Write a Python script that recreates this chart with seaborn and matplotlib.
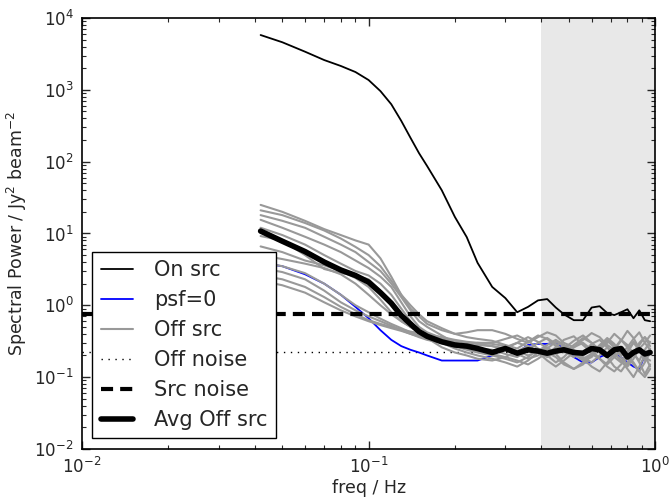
import matplotlib
matplotlib.use('Agg')
import matplotlib.pyplot as plt
from matplotlib.lines import Line2D
import pandas as pd
import seaborn as sns

freq = [0.042, 0.05, 0.06, 0.07, 0.08, 0.09, 0.10, 0.11, 0.12, 0.13, 0.14, 0.15, 0.16,
        0.18, 0.20, 0.22, 0.24, 0.27, 0.30, 0.33, 0.36, 0.39, 0.42, 0.45, 0.48, 0.52,
        0.56, 0.60, 0.64, 0.68, 0.72, 0.76, 0.80, 0.84, 0.88, 0.92, 0.96]

on_src = [5800, 4600, 3400, 2600, 2150, 1770, 1370, 960, 630, 370, 215, 131, 87,
          40, 17, 8.9, 3.9, 1.8, 1.26, 0.80, 0.95, 1.17, 1.22, 0.93, 0.75, 0.62,
          0.62, 0.93, 0.97, 0.78, 0.73, 0.80, 0.88, 0.66, 0.85, 0.62, 0.60]

psf0 = [3.9, 3.5, 2.7, 2.0, 1.4, 0.95, 0.66, 0.45, 0.33, 0.27, 0.24, 0.22, 0.20,
        0.17, 0.17, 0.17, 0.17, 0.20, 0.26, 0.22, 0.28, 0.29, 0.29, 0.30, 0.25, 0.19,
        0.16, 0.16, 0.19, 0.21, 0.21, 0.19, 0.16, 0.14, 0.13, 0.20, 0.24]

avg_off = [10.8, 7.8, 5.6, 4.0, 3.1, 2.6, 2.1, 1.5, 1.07, 0.72, 0.55, 0.43, 0.37,
           0.31, 0.28, 0.27, 0.25, 0.22, 0.25, 0.215, 0.24, 0.23, 0.215, 0.23, 0.24, 0.22,
           0.215, 0.25, 0.24, 0.20, 0.24, 0.25, 0.19, 0.22, 0.24, 0.21, 0.22]

off_src = [
    [25, 20, 15, 11.5, 9.5, 8, 7, 4.5, 2.5, 1.4, 0.9, 0.7, 0.55, 0.45, 0.40, 0.42, 0.45,
     0.45, 0.40, 0.34, 0.30, 0.36, 0.42, 0.38, 0.30, 0.26, 0.33, 0.41, 0.36, 0.28, 0.24, 0.32, 0.44, 0.35, 0.25, 0.30, 0.38],
    [21, 18, 14, 11, 8.5, 6.5, 5, 3.5, 2.2, 1.4, 1.0, 0.75, 0.6, 0.48, 0.40, 0.36, 0.34,
     0.32, 0.28, 0.25, 0.31, 0.38, 0.34, 0.27, 0.22, 0.28, 0.35, 0.30, 0.24, 0.30, 0.40, 0.33, 0.26, 0.20, 0.28, 0.36, 0.30],
    [18, 15, 12, 9, 7, 5.5, 4, 3, 2.0, 1.3, 0.85, 0.6, 0.5, 0.38, 0.30, 0.28, 0.30,
     0.30, 0.34, 0.38, 0.32, 0.25, 0.21, 0.26, 0.33, 0.37, 0.28, 0.22, 0.27, 0.35, 0.29, 0.21, 0.26, 0.34, 0.42, 0.30, 0.24],
    [15.5, 12, 9, 7, 5.5, 4.2, 3.3, 2.5, 1.8, 1.1, 0.7, 0.5, 0.42, 0.35, 0.3, 0.27, 0.25,
     0.24, 0.21, 0.19, 0.24, 0.30, 0.35, 0.29, 0.23, 0.19, 0.22, 0.29, 0.33, 0.26, 0.19, 0.16, 0.22, 0.30, 0.24, 0.17, 0.22],
    [12, 9.5, 7, 5, 3.8, 3.0, 2.6, 2.0, 1.4, 0.9, 0.6, 0.45, 0.38, 0.32, 0.28, 0.26, 0.28,
     0.27, 0.25, 0.30, 0.36, 0.31, 0.25, 0.21, 0.25, 0.32, 0.38, 0.30, 0.22, 0.19, 0.25, 0.33, 0.28, 0.21, 0.17, 0.24, 0.31],
    [9.2, 8, 5, 3.2, 2.8, 2.6, 2.3, 1.6, 1.0, 0.7, 0.5, 0.42, 0.36, 0.30, 0.25, 0.22, 0.20,
     0.18, 0.16, 0.14, 0.17, 0.22, 0.26, 0.21, 0.16, 0.13, 0.15, 0.20, 0.25, 0.19, 0.14, 0.12, 0.16, 0.22, 0.16, 0.11, 0.15],
    [6.6, 5.5, 4.2, 3.6, 3.0, 2.4, 1.8, 1.2, 0.8, 0.6, 0.5, 0.44, 0.40, 0.35, 0.32, 0.3, 0.29,
     0.27, 0.24, 0.21, 0.18, 0.20, 0.25, 0.31, 0.27, 0.21, 0.17, 0.19, 0.26, 0.32, 0.26, 0.19, 0.15, 0.21, 0.30, 0.36, 0.27],
    [5, 4.4, 3.8, 3.3, 2.7, 2.0, 1.4, 1.0, 0.75, 0.6, 0.5, 0.42, 0.35, 0.26, 0.22, 0.2, 0.18,
     0.17, 0.19, 0.23, 0.27, 0.22, 0.17, 0.14, 0.17, 0.22, 0.18, 0.14, 0.12, 0.16, 0.21, 0.17, 0.13, 0.10, 0.14, 0.20, 0.25],
    [4, 3.5, 2.8, 2.0, 1.4, 1.0, 0.8, 0.65, 0.55, 0.48, 0.42, 0.38, 0.35, 0.3, 0.27, 0.24, 0.22,
     0.20, 0.18, 0.16, 0.19, 0.24, 0.20, 0.16, 0.19, 0.26, 0.30, 0.24, 0.18, 0.15, 0.19, 0.24, 0.20, 0.15, 0.12, 0.16, 0.22],
    [3.3, 2.9, 2.3, 1.6, 1.1, 0.85, 0.7, 0.6, 0.52, 0.45, 0.40, 0.36, 0.33, 0.3, 0.28, 0.26, 0.24,
     0.23, 0.26, 0.30, 0.27, 0.22, 0.19, 0.22, 0.28, 0.24, 0.19, 0.16, 0.20, 0.26, 0.22, 0.17, 0.14, 0.18, 0.25, 0.20, 0.14],
    [2.6, 2.3, 1.8, 1.3, 0.95, 0.75, 0.62, 0.55, 0.5, 0.46, 0.43, 0.41, 0.39, 0.36, 0.33, 0.31, 0.30,
     0.29, 0.27, 0.23, 0.20, 0.23, 0.28, 0.33, 0.28, 0.22, 0.18, 0.21, 0.28, 0.34, 0.27, 0.20, 0.23, 0.31, 0.26, 0.19, 0.17],
    [2.2, 1.9, 1.5, 1.1, 0.85, 0.7, 0.6, 0.53, 0.48, 0.44, 0.40, 0.37, 0.34, 0.30, 0.27, 0.25, 0.23,
     0.21, 0.19, 0.17, 0.15, 0.18, 0.22, 0.19, 0.15, 0.13, 0.16, 0.21, 0.18, 0.14, 0.12, 0.15, 0.19, 0.16, 0.12, 0.10, 0.13],
]

src_noise = 0.76
off_noise = 0.224
shade_range = (0.4, 1.0)

sns.set_style('ticks', {'xtick.direction': 'in', 'ytick.direction': 'in'})
plt.rcParams['font.family'] = ['DejaVu Sans']
plt.rcParams['mathtext.fontset'] = 'dejavusans'

fig = plt.figure(figsize=(6.72, 5.01), dpi=100)
ax = fig.add_axes([0.122, 0.104, 0.853, 0.860])

ax.axvspan(*shade_range, color='#e8e8e8', lw=0, zorder=0)

df_on = pd.DataFrame({'freq': freq, 'power': on_src})
df_psf = pd.DataFrame({'freq': freq, 'power': psf0})
df_avg = pd.DataFrame({'freq': freq, 'power': avg_off})
df_off = pd.concat([pd.DataFrame({'freq': freq, 'power': v, 'unit': i})
                    for i, v in enumerate(off_src)], ignore_index=True)

# noise levels first so the spectra sit on top of the dotted line
ax.hlines(off_noise, 0.01, freq[-1], colors='k', lw=1,
          linestyles=(0, (1, 4)), zorder=1)
ax.hlines(src_noise, 0.01, freq[-1], colors='k', lw=3,
          linestyles=(0, (2.9, 1.7)), zorder=3)

sns.lineplot(data=df_on, x='freq', y='power', color='k', lw=1.3, ax=ax, zorder=3)
h_on = ax.lines[-1]
sns.lineplot(data=df_psf, x='freq', y='power', color='b', lw=1.3, ax=ax, zorder=2)
h_psf = ax.lines[-1]
sns.lineplot(data=df_off, x='freq', y='power', units='unit', estimator=None,
             color='0.6', lw=1.5, ax=ax, legend=False, zorder=2)
h_off = ax.lines[-1]
sns.lineplot(data=df_avg, x='freq', y='power', color='k', lw=4, ax=ax, zorder=4)
h_avg = ax.lines[-1]

ax.set_xscale('log')
ax.set_yscale('log')
ax.set_xlim(1e-2, 1)
ax.set_ylim(1e-2, 1e4)
ax.set_xlabel('freq / Hz', fontsize=12.5, labelpad=1)
ax.set_ylabel('Spectral Power / Jy$^2$ beam$^{-2}$', fontsize=12.5)
ax.tick_params(which='both', top=True, right=True, labelsize=12)
ax.tick_params(which='major', length=6, width=1)
ax.tick_params(which='minor', length=3, width=0.8)
ax.tick_params(axis='x', which='major', pad=6)
ax.tick_params(axis='y', which='major', pad=6)
for s in ax.spines.values():
    s.set_linewidth(1.2)
    s.set_color('k')

handles = [h_on, h_psf, h_off,
           Line2D([], [], color='k', lw=1, ls=(0, (1, 4))),
           Line2D([], [], color='k', lw=3, ls=(0, (2.9, 1.7))),
           h_avg]
labels = ['On src', 'psf=0', 'Off src', 'Off noise', 'Src noise', 'Avg Off src']
leg = ax.legend(handles, labels, loc='lower left', bbox_to_anchor=(0, 0),
                borderaxespad=0.5, fontsize=15, frameon=True, fancybox=False,
                framealpha=1, edgecolor='k', handlelength=1.55, handletextpad=1.0,
                labelspacing=0.48, borderpad=0.4)
leg.get_frame().set_linewidth(1)
leg.set_zorder(10)

fig.savefig('out.png', dpi=100)
